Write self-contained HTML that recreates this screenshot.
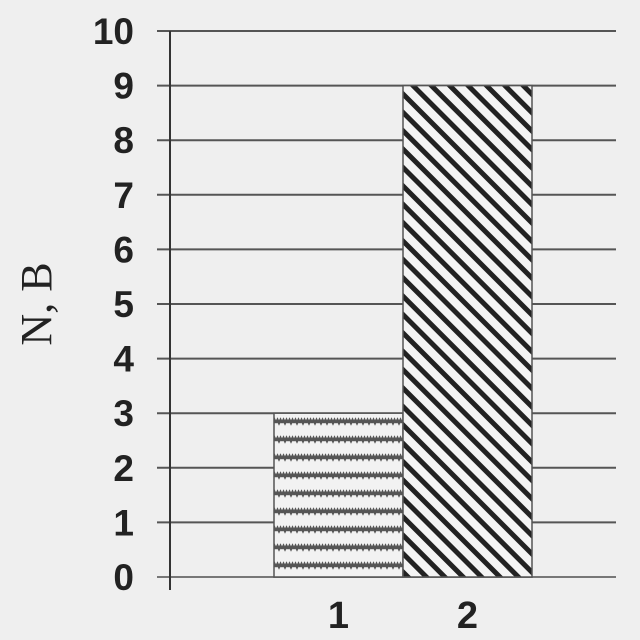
<!DOCTYPE html>
<html><head><meta charset="utf-8"><style>
html,body{margin:0;padding:0;background:#efefef;}
svg{display:block;}
</style></head><body>
<svg width="640" height="640" viewBox="0 0 640 640">
<defs>
<pattern id="wave" width="6" height="18" patternUnits="userSpaceOnUse" y="2">
<rect width="6" height="18" fill="#f2f2f2"/>
<path d="M0 7 L1.5 4 L3 7 L4.5 4 L6 7" stroke="#555" stroke-width="2.5" fill="none"/>
</pattern>
<pattern id="diag" width="13" height="13" patternUnits="userSpaceOnUse" patternTransform="rotate(45)">
<rect width="13" height="13" fill="#f4f4f4"/>
<rect x="0" y="0" width="13" height="5" fill="#222"/>
</pattern>
</defs>
<g id="grid"></g>
<g id="bars"></g>
<line x1="170" y1="31" x2="170" y2="590" stroke="#333" stroke-width="2"/>
<g id="yticks"></g>
<g id="xticks"></g>
<text x="51" y="304" transform="rotate(-90 51 304)" text-anchor="middle" font-family="Liberation Serif, serif" font-size="44" fill="#222">N, B</text>
</svg>
<script>
const categories = ["1", "2"];
const values = [3, 9];
const yTicks = [0,1,2,3,4,5,6,7,8,9,10];
const fills = ["url(#wave)", "url(#diag)"];
const NS = "http://www.w3.org/2000/svg";
function y(v){ return 577 - v*54.6; }
function xLeft(i){ return 274 + i*129; }
const bw = 129;
const grid = document.getElementById('grid');
const yt = document.getElementById('yticks');
yTicks.forEach(t=>{
  const l = document.createElementNS(NS,'line');
  l.setAttribute('x1',157); l.setAttribute('x2',616);
  l.setAttribute('y1',y(t)); l.setAttribute('y2',y(t));
  l.setAttribute('stroke', t===0 ? '#777' : '#555'); l.setAttribute('stroke-width', 2);
  
  
  grid.appendChild(l);
  const tx = document.createElementNS(NS,'text');
  tx.setAttribute('x',134); tx.setAttribute('y',y(t)+13);
  tx.setAttribute('text-anchor','end');
  tx.setAttribute('font-family','Liberation Sans, sans-serif');
  tx.setAttribute('font-weight','bold'); tx.setAttribute('font-size','37');
  tx.setAttribute('fill','#222');
  tx.textContent = t;
  
  
  yt.appendChild(tx);
});
const bars = document.getElementById('bars');
const xt = document.getElementById('xticks');
values.forEach((v,i)=>{
  const r = document.createElementNS(NS,'rect');
  r.setAttribute('x',xLeft(i)); r.setAttribute('y',y(v));
  r.setAttribute('width',bw); r.setAttribute('height',y(0)-y(v));
  r.setAttribute('fill',fills[i]); r.setAttribute('stroke','#555'); r.setAttribute('stroke-width',1.5);
  
  
  bars.appendChild(r);
  const tx = document.createElementNS(NS,'text');
  tx.setAttribute('x',xLeft(i)+bw/2); tx.setAttribute('y',628);
  tx.setAttribute('text-anchor','middle');
  tx.setAttribute('font-family','Liberation Sans, sans-serif');
  tx.setAttribute('font-weight','bold'); tx.setAttribute('font-size','38');
  tx.setAttribute('fill','#222');
  tx.textContent = categories[i];
  
  
  xt.appendChild(tx);
});
</script>
</body></html>
